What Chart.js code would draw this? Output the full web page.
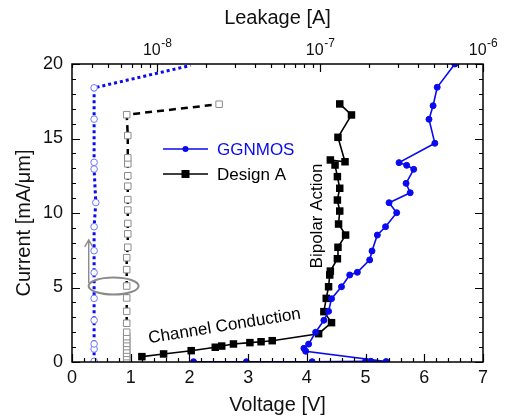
<!DOCTYPE html>
<html><head><meta charset="utf-8">
<script src="https://cdn.jsdelivr.net/npm/chart.js@4.4.0/dist/chart.umd.min.js"></script>
<style>html,body{margin:0;padding:0;background:#fff;}canvas{display:block;}</style>
</head><body>
<canvas id="c" width="506" height="419"></canvas>
<script>
// ---- Data ----
// GGNMOS I-V (bottom axis: Voltage [V], left axis: Current [mA/um])
const ggVoltage = [2.07, 2.97, 4.09, 5.00, 5.09, 5.35, 3.98, 3.95, 4.03, 4.15, 4.29, 4.37, 4.42, 4.59, 4.73, 4.86, 5.07, 5.11, 5.20, 5.34, 5.53, 5.40, 5.76, 5.69, 5.82, 5.70, 5.57, 6.18, 6.08, 6.15, 6.22, 6.52];
const ggCurrent = [0.02, 0.02, 0.02, 0.05, 0.05, 0.03, 0.72, 0.92, 1.20, 2.00, 2.80, 3.40, 4.25, 5.05, 5.84, 6.02, 6.85, 7.45, 8.52, 9.08, 10.02, 10.69, 11.36, 11.99, 12.93, 13.20, 13.38, 14.68, 16.29, 17.20, 18.44, 20.0];
// Design A I-V
const daVoltage = [1.19, 1.56, 2.03, 2.44, 2.55, 2.75, 3.03, 3.22, 3.41, 4.20, 4.42, 4.29, 4.33, 4.37, 4.39, 4.40, 4.52, 4.53, 4.66, 4.54, 4.56, 4.52, 4.56, 4.52, 4.48, 4.40, 4.65, 4.53, 4.76, 4.56];
const daCurrent = [0.36, 0.54, 0.76, 0.99, 1.07, 1.21, 1.30, 1.36, 1.43, 1.90, 2.64, 3.38, 4.27, 5.05, 5.84, 6.10, 6.93, 7.70, 8.52, 9.26, 10.13, 10.87, 11.66, 12.44, 13.22, 13.56, 13.44, 15.08, 16.58, 17.32];
// GGNMOS leakage (top axis: Leakage [A])
const ggLeakage = [4.1e-9, 4.1e-9, 4.1e-9, 4.1e-9, 4.1e-9, 4.1e-9, 4.1e-9, 4.1e-9, 4.2e-9, 4.1e-9, 4.1e-9, 4.1e-9, 4.1e-9, 1.6e-8];
const ggLeakCurrent = [0.05, 0.87, 1.21, 2.80, 4.27, 6.00, 7.47, 9.08, 10.70, 12.95, 13.40, 16.30, 18.40, 19.9];
// Design A leakage
const daLeakage = [6.5e-9, 6.5e-9, 6.5e-9, 6.5e-9, 6.5e-9, 6.5e-9, 6.5e-9, 6.5e-9, 6.5e-9, 6.5e-9, 6.5e-9, 6.5e-9, 6.5e-9, 6.5e-9, 6.5e-9, 6.6e-9, 6.6e-9, 6.6e-9, 6.6e-9, 6.6e-9, 6.6e-9, 6.6e-9, 6.6e-9, 6.6e-9, 6.6e-9, 6.5e-9, 2.4e-8];
const daLeakCurrent = [0.13, 0.36, 0.58, 0.80, 1.03, 1.25, 1.50, 1.70, 2.00, 2.60, 3.40, 4.30, 5.10, 6.20, 7.00, 7.70, 8.60, 9.30, 10.20, 10.90, 11.80, 12.50, 13.30, 13.70, 15.20, 16.60, 17.30];
// Axis tick labels / titles
const voltageTicks = [0, 1, 2, 3, 4, 5, 6, 7];
const currentTicks = [0, 5, 10, 15, 20];
const leakageExponents = ['-8', '-7', '-6'];
const seriesNames = ['GGNMOS', 'Design A'];

const FONT = '"Liberation Sans", Arial, Helvetica, sans-serif';
const BLUE = '#0a0af0';
const pts = (xs, ys) => xs.map((v, i) => ({x: v, y: ys[i]}));

const decor = {
  id: 'decor',
  afterDraw(chart) {
    const {ctx, chartArea: a, scales} = chart;
    const x = scales.x, x2 = scales.x2, y = scales.y;
    ctx.save();
    ctx.strokeStyle = '#000';
    // ticks (inward)
    ctx.lineWidth = 1.2;
    ctx.beginPath();
    for (let i = 0; i <= 35; i++) {
      const px = Math.round(x.getPixelForValue(i * 0.2)) + 0.5;
      const len = i % 5 === 0 ? 8 : 4;
      ctx.moveTo(px, a.bottom); ctx.lineTo(px, a.bottom - len);
    }
    for (let i = 0; i <= 20; i++) {
      const py = Math.round(y.getPixelForValue(i)) + 0.5;
      const len = i % 5 === 0 ? 8 : 4;
      ctx.moveTo(a.left, py); ctx.lineTo(a.left + len, py);
      ctx.moveTo(a.right, py); ctx.lineTo(a.right - len, py);
    }
    for (let e = -9; e <= -6; e++) {
      for (let m = 1; m <= 9; m++) {
        const v = m * Math.pow(10, e);
        if (v < x2.min * 0.999 || v > x2.max * 1.001) continue;
        const px = Math.round(x2.getPixelForValue(v)) + 0.5;
        const len = m === 1 ? 8 : 4;
        ctx.moveTo(px, a.top); ctx.lineTo(px, a.top + len);
      }
    }
    ctx.stroke();
    // frame
    ctx.lineWidth = 1.5;
    ctx.strokeRect(a.left, a.top, a.right - a.left, a.bottom - a.top);

    // top axis labels 10^n
    ctx.fillStyle = '#111';
    ctx.textBaseline = 'alphabetic';
    ctx.textAlign = 'left';
    leakageExponents.forEach(ex => {
      const px = x2.getPixelForValue(Math.pow(10, Number(ex)));
      ctx.font = '16px ' + FONT;
      const w1 = ctx.measureText('10').width;
      ctx.font = '12px ' + FONT;
      const w2 = ctx.measureText(ex).width;
      const sx = px - (w1 + w2) / 2;
      ctx.font = '16px ' + FONT;
      ctx.fillText('10', sx, 55);
      ctx.font = '12px ' + FONT;
      ctx.fillText(ex, sx + w1 + 0.5, 47);
    });

    // axis titles
    ctx.font = '20px ' + FONT;
    ctx.textAlign = 'center';
    ctx.fillText('Voltage [V]', (a.left + a.right) / 2, 411);
    ctx.fillText('Leakage [A]', (a.left + a.right) / 2, 24);
    ctx.save();
    ctx.translate(30, (a.top + a.bottom) / 2 + 10);
    ctx.rotate(-Math.PI / 2);
    ctx.fillText('Current [mA/\u03BCm]', 0, 0);
    ctx.restore();

    // legend
    const lx0 = 163, lx1 = 208, tx = 217;
    const ly = [149, 174];
    ctx.lineWidth = 1.6;
    ctx.strokeStyle = BLUE; ctx.fillStyle = BLUE;
    ctx.beginPath(); ctx.moveTo(lx0, ly[0]); ctx.lineTo(lx1, ly[0]); ctx.stroke();
    ctx.beginPath(); ctx.arc((lx0 + lx1) / 2, ly[0], 3, 0, Math.PI * 2); ctx.fill();
    ctx.font = '17px ' + FONT; ctx.textAlign = 'left'; ctx.textBaseline = 'middle';
    ctx.fillText(seriesNames[0], tx, ly[0] + 1);
    ctx.strokeStyle = '#000'; ctx.fillStyle = '#000';
    ctx.beginPath(); ctx.moveTo(lx0, ly[1]); ctx.lineTo(lx1, ly[1]); ctx.stroke();
    ctx.fillRect((lx0 + lx1) / 2 - 4, ly[1] - 4, 8, 8);
    ctx.fillText(seriesNames[1], tx, ly[1] + 1);

    // annotations
    ctx.fillStyle = '#000';
    ctx.font = '17px ' + FONT;
    ctx.save();
    ctx.translate(x.getPixelForValue(2.6), y.getPixelForValue(2.4));
    ctx.rotate(-9.2 * Math.PI / 180);
    ctx.textAlign = 'center'; ctx.textBaseline = 'middle';
    ctx.fillText('Channel Conduction', 0, 0);
    ctx.restore();
    ctx.save();
    ctx.translate(x.getPixelForValue(4.17), y.getPixelForValue(9.8));
    ctx.rotate(-Math.PI / 2);
    ctx.textAlign = 'center'; ctx.textBaseline = 'middle';
    ctx.fillText('Bipolar Action', 0, 0);
    ctx.restore();

    // grey ellipse and arrow
    ctx.strokeStyle = '#8a8a8a';
    ctx.lineWidth = 2;
    const ex = x2.getPixelForValue(5.4e-9), ey = y.getPixelForValue(5.1);
    ctx.beginPath(); ctx.ellipse(ex, ey, 25, 8.5, 0, 0, Math.PI * 2); ctx.stroke();
    ctx.lineWidth = 1.4;
    const ax = x2.getPixelForValue(3.8e-9), ay0 = y.getPixelForValue(5.3), ay1 = y.getPixelForValue(8.2);
    ctx.beginPath(); ctx.moveTo(ax, ay0); ctx.lineTo(ax, ay1);
    ctx.moveTo(ax - 4, ay1 + 7); ctx.lineTo(ax, ay1); ctx.lineTo(ax + 4, ay1 + 7);
    ctx.stroke();
    ctx.restore();
  }
};

new Chart(document.getElementById('c'), {
  type: 'line',
  data: {
    datasets: [
      {
        label: seriesNames[0], data: pts(ggVoltage, ggCurrent), xAxisID: 'x', yAxisID: 'y',
        borderColor: BLUE, backgroundColor: BLUE, borderWidth: 1.6,
        pointStyle: 'circle', pointRadius: 3, pointBorderWidth: 1, pointBackgroundColor: BLUE
      },
      {
        label: seriesNames[1], data: pts(daVoltage, daCurrent), xAxisID: 'x', yAxisID: 'y',
        borderColor: '#000', backgroundColor: '#000', borderWidth: 1.6,
        pointStyle: 'rect', pointRadius: 5.3, pointBorderWidth: 0, pointBackgroundColor: '#000'
      },
      {
        label: 'GGNMOS leakage', data: pts(ggLeakage, ggLeakCurrent), xAxisID: 'x2', yAxisID: 'y',
        borderColor: BLUE, borderWidth: 3, borderDash: [3, 3],
        pointStyle: 'circle', pointRadius: ggLeakage.map((v, i) => i === ggLeakage.length - 1 ? 0 : 3.3),
        pointBorderWidth: 1, pointBorderColor: '#6a78ff', pointBackgroundColor: '#fff'
      },
      {
        label: 'Design A leakage', data: pts(daLeakage, daLeakCurrent), xAxisID: 'x2', yAxisID: 'y',
        borderColor: '#000', borderWidth: 2.5, borderDash: [7, 5],
        pointStyle: 'rect', pointRadius: 4.6, pointBorderWidth: 1,
        pointBorderColor: '#8c8c8c', pointBackgroundColor: '#fff'
      }
    ]
  },
  options: {
    responsive: false, animation: false, devicePixelRatio: 1,
    layout: {padding: {left: 0, right: 23, top: 0, bottom: 0}},
    plugins: {legend: {display: false}, tooltip: {enabled: false}},
    elements: {line: {tension: 0}},
    scales: {
      x: {
        type: 'linear', position: 'bottom', min: 0, max: 7,
        afterBuildTicks: s => { s.ticks = voltageTicks.map(v => ({value: v})); },
        ticks: {font: {size: 18, family: FONT}, color: '#111', padding: 5, maxRotation: 0},
        grid: {display: false, drawTicks: false}, border: {display: false},
        afterFit: s => { s.height = 57; s.paddingLeft = 0; s.paddingRight = 0; }
      },
      x2: {
        type: 'logarithmic', position: 'top', min: 3e-9, max: 1e-6,
        ticks: {display: false},
        grid: {display: false, drawTicks: false}, border: {display: false},
        afterFit: s => { s.height = 64; s.paddingLeft = 0; s.paddingRight = 0; }
      },
      y: {
        type: 'linear', position: 'left', min: 0, max: 20,
        afterBuildTicks: s => { s.ticks = currentTicks.map(v => ({value: v})); },
        ticks: {font: {size: 18, family: FONT}, color: '#111', padding: 9},
        grid: {display: false, drawTicks: false}, border: {display: false},
        afterFit: s => { s.width = 72; s.paddingTop = 0; s.paddingBottom = 0; }
      }
    }
  },
  plugins: [decor]
});
</script>
</body></html>
